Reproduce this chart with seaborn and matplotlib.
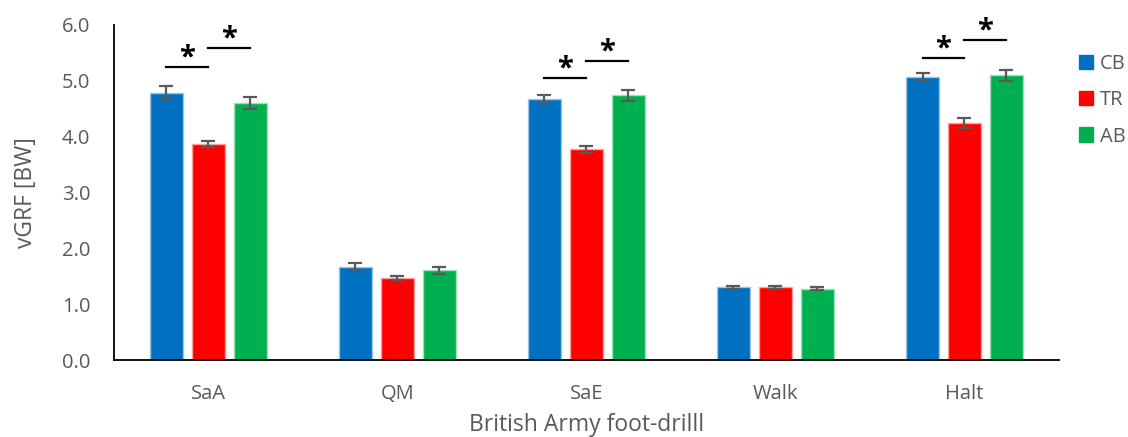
import pandas as pd
import matplotlib
matplotlib.use("Agg")
import matplotlib.pyplot as plt
import seaborn as sns

# =====================================
# DATA
# =====================================

drills = ["SaA", "QM", "SaE", "Walk", "Halt"]
groups = ["CB", "TR", "AB"]

cb_mean = [4.79, 1.67, 4.67, 1.30, 5.07]
tr_mean = [3.87, 1.47, 3.77, 1.30, 4.24]
ab_mean = [4.60, 1.61, 4.74, 1.28, 5.10]

cb_err = [0.12, 0.065, 0.07, 0.02, 0.065]
tr_err = [0.06, 0.035, 0.06, 0.02, 0.09]
ab_err = [0.11, 0.065, 0.10, 0.02, 0.10]

# significance brackets: (drill, left group, right group, height)
sig_drill = ["SaA", "SaA", "SaE", "SaE", "Halt", "Halt"]
sig_from = ["CB", "TR", "CB", "TR", "CB", "TR"]
sig_to = ["TR", "AB", "TR", "AB", "TR", "AB"]
sig_y = [5.24, 5.58, 5.05, 5.36, 5.41, 5.73]

colors = {"CB": "#0070C0", "TR": "#FF0000", "AB": "#00B050"}
edge_colors = {"CB": "#9DC3E6", "TR": "#FF9F9F", "AB": "#9FE0B8"}

# =====================================
# TABLE
# =====================================

df = pd.DataFrame({
    "drill": drills * 3,
    "group": ["CB"] * 5 + ["TR"] * 5 + ["AB"] * 5,
    "vgrf": cb_mean + tr_mean + ab_mean,
    "err": cb_err + tr_err + ab_err,
})

# =====================================
# PLOT
# =====================================

plt.rcParams['font.family'] = ['Open Sans', 'DejaVu Sans']

fig = plt.figure(figsize=(11.28, 4.37), dpi=100)
ax = fig.add_axes([0.101, 0.176, 0.8378, 0.767])

sns.barplot(
    data=df,
    x="drill",
    y="vgrf",
    hue="group",
    order=drills,
    hue_order=groups,
    palette=colors,
    saturation=1,
    width=0.666,
    gap=0.21,
    errorbar=None,
    legend=False,
    ax=ax,
)

# bar centres from the drawn patches, keyed by (group, drill)
centres = {}
bars = [p for p in ax.patches if p.get_height() > 0]
for i, p in enumerate(bars):
    g = groups[i // len(drills)]
    d = drills[i % len(drills)]
    p.set_edgecolor(edge_colors[g])
    p.set_linewidth(1.0)
    centres[(g, d)] = p.get_x() + p.get_width() / 2

for g in groups:
    sub = df[df["group"] == g]
    xs = [centres[(g, d)] for d in sub["drill"]]
    ax.errorbar(
        xs, sub["vgrf"], yerr=sub["err"],
        fmt="none", ecolor="#595959", elinewidth=1.6,
        capsize=5, capthick=1.6, zorder=5,
    )

for d, a, b, y in zip(sig_drill, sig_from, sig_to, sig_y):
    x0 = centres[(a, d)]
    x1 = centres[(b, d)]
    ax.plot([x0, x1], [y, y], color="black", lw=1.6)
    ax.text((x0 + x1) / 2, y - 0.10, "*", ha="center", va="bottom",
            fontsize=21, fontweight="bold", color="black")

ax.set_xlim(-0.5, len(drills) - 0.5)
ax.set_ylim(0, 6)
ax.set_yticks([0, 1, 2, 3, 4, 5, 6])
ax.set_yticklabels([f"{v:.1f}" for v in range(7)])
ax.tick_params(axis="y", length=0, pad=17, labelsize=14.5, labelcolor="#595959")
ax.tick_params(axis="x", length=0, pad=17, labelsize=14.5, labelcolor="#595959")

ax.set_xlabel("British Army foot-drilll", fontsize=16.5, color="#595959", labelpad=7)
ax.set_ylabel("vGRF [BW]", fontsize=16.5, color="#595959", labelpad=17)

for s in ["top", "right"]:
    ax.spines[s].set_visible(False)
for s in ["left", "bottom"]:
    ax.spines[s].set_color("black")
    ax.spines[s].set_linewidth(1.3)

handles = [plt.Rectangle((0, 0), 1, 1, color=colors[g]) for g in groups]
fig.legend(
    handles, groups,
    loc="upper left", bbox_to_anchor=(0.953, 0.885),
    frameon=False, fontsize=14.5, labelcolor="#595959",
    handlelength=0.7, handleheight=0.7, handletextpad=0.35,
    labelspacing=0.8, borderaxespad=0, borderpad=0.2,
)

fig.savefig("out.png", dpi=100)
